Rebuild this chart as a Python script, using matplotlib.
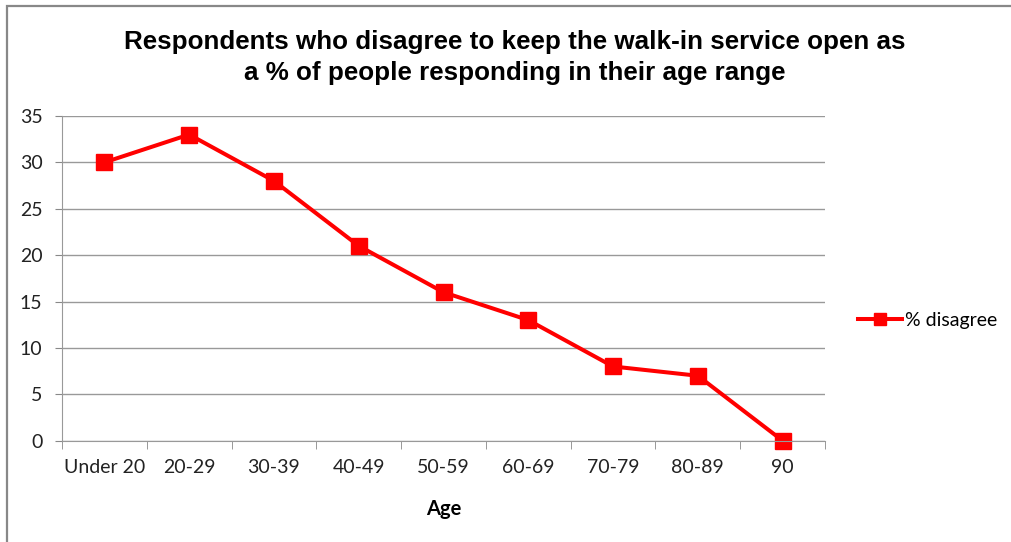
import matplotlib.pyplot as plt
from matplotlib.patches import Rectangle

ages = ['Under 20', '20-29', '30-39', '40-49', '50-59', '60-69', '70-79', '80-89', '90']
pct_disagree = [30, 33, 28, 21, 16, 13, 8, 7, 0]
yticks = [0, 5, 10, 15, 20, 25, 30, 35]

fig = plt.figure(figsize=(10.11, 5.42), dpi=100)
ax = fig.add_axes([62/1011, 1-440.7/542, (825-62)/1011, (440.7-116)/542])

# outer chart frame (Excel style)
fig.patches.append(Rectangle((7/1011, -0.1), 1.1, 1-6/542+0.1, transform=fig.transFigure,
                             fill=False, edgecolor='#888888', linewidth=1.6))

x = list(range(len(ages)))
ax.plot(x, pct_disagree, color='#ff0000', linewidth=2.9, marker='s', markersize=11.5,
        label='% disagree', clip_on=False)

ax.set_xlim(-0.5, len(ages) - 0.5)
ax.set_ylim(0, 35)
ax.set_yticks(yticks)
ax.set_xticks(x)
ax.set_xticklabels(ages)
ax.set_xticks([i - 0.5 for i in range(len(ages) + 1)], minor=True)
ax.tick_params(axis='x', which='major', length=0, pad=13)
ax.tick_params(axis='x', which='minor', length=6, color='#888888')
ax.tick_params(axis='y', length=5, color='#888888', pad=9)
for lab in ax.get_xticklabels() + ax.get_yticklabels():
    lab.set_fontfamily('Lato')
    lab.set_fontsize(14)
    lab.set_color('#222222')

ax.grid(axis='y', color='#999999', linewidth=1)
ax.set_axisbelow(True)
for s in ['top', 'right']:
    ax.spines[s].set_visible(False)
for s in ['left', 'bottom']:
    ax.spines[s].set_color('#999999')

ax.set_xlabel('Age', fontsize=14.5, fontweight='bold', fontfamily='Lato', labelpad=17)

fig.text(0.509, 0.894, 'Respondents who disagree to keep the walk-in service open as\na % of people responding in their age range',
         ha='center', va='center', fontsize=18.7, fontweight='bold', fontfamily='Liberation Sans',
         linespacing=1.4)

leg = ax.legend(loc='center left', bbox_to_anchor=(1.02, 0.37), frameon=False,
                prop={'family': 'Lato', 'size': 14}, handlelength=2.3, handletextpad=0.15,
                markerscale=0.75)

fig.savefig('out.png', dpi=100)
